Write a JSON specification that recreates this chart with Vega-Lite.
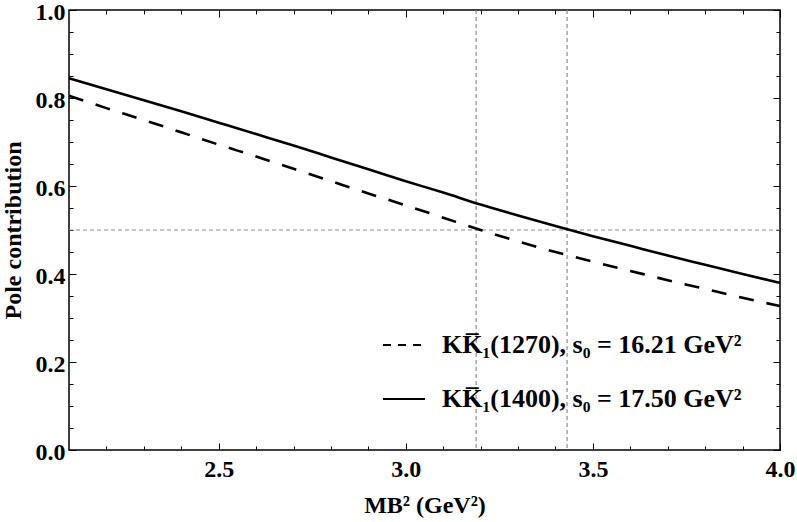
{
  "$schema": "https://vega.github.io/schema/vega-lite/v6.json",
  "width": 711,
  "height": 440,
  "autosize": {"type": "none"},
  "padding": {"left": 69, "top": 10, "right": 17, "bottom": 72},
  "config": {
    "view": {"stroke": "black", "strokeWidth": 1.5},
    "font": "Times New Roman, Liberation Serif, serif",
    "axis": {
      "grid": false,
      "domain": false,
      "tickColor": "black",
      "tickWidth": 1,
      "labelFont": "Times New Roman, Liberation Serif, serif",
      "labelFontWeight": "bold",
      "labelFontSize": 24,
      "labelColor": "black",
      "labelFlush": false,
      "labelOverlap": false,
      "titleFont": "Times New Roman, Liberation Serif, serif",
      "titleFontWeight": "bold",
      "titleFontSize": 24,
      "titleColor": "black"
    }
  },
  "datasets": {
    "curves": [
      {"m2": 2.1, "pole": 0.805, "series": "KK̅₁(1270), s₀ = 16.21 GeV²"},
      {"m2": 2.2, "pole": 0.777, "series": "KK̅₁(1270), s₀ = 16.21 GeV²"},
      {"m2": 2.3, "pole": 0.750, "series": "KK̅₁(1270), s₀ = 16.21 GeV²"},
      {"m2": 2.4, "pole": 0.722, "series": "KK̅₁(1270), s₀ = 16.21 GeV²"},
      {"m2": 2.5, "pole": 0.694, "series": "KK̅₁(1270), s₀ = 16.21 GeV²"},
      {"m2": 2.6, "pole": 0.667, "series": "KK̅₁(1270), s₀ = 16.21 GeV²"},
      {"m2": 2.7, "pole": 0.639, "series": "KK̅₁(1270), s₀ = 16.21 GeV²"},
      {"m2": 2.8, "pole": 0.611, "series": "KK̅₁(1270), s₀ = 16.21 GeV²"},
      {"m2": 2.9, "pole": 0.583, "series": "KK̅₁(1270), s₀ = 16.21 GeV²"},
      {"m2": 3.0, "pole": 0.556, "series": "KK̅₁(1270), s₀ = 16.21 GeV²"},
      {"m2": 3.1, "pole": 0.528, "series": "KK̅₁(1270), s₀ = 16.21 GeV²"},
      {"m2": 3.2, "pole": 0.500, "series": "KK̅₁(1270), s₀ = 16.21 GeV²"},
      {"m2": 3.3, "pole": 0.474, "series": "KK̅₁(1270), s₀ = 16.21 GeV²"},
      {"m2": 3.4, "pole": 0.450, "series": "KK̅₁(1270), s₀ = 16.21 GeV²"},
      {"m2": 3.5, "pole": 0.428, "series": "KK̅₁(1270), s₀ = 16.21 GeV²"},
      {"m2": 3.6, "pole": 0.407, "series": "KK̅₁(1270), s₀ = 16.21 GeV²"},
      {"m2": 3.7, "pole": 0.386, "series": "KK̅₁(1270), s₀ = 16.21 GeV²"},
      {"m2": 3.8, "pole": 0.366, "series": "KK̅₁(1270), s₀ = 16.21 GeV²"},
      {"m2": 3.9, "pole": 0.346, "series": "KK̅₁(1270), s₀ = 16.21 GeV²"},
      {"m2": 4.0, "pole": 0.327, "series": "KK̅₁(1270), s₀ = 16.21 GeV²"},
      {"m2": 2.1, "pole": 0.845, "series": "KK̅₁(1400), s₀ = 17.50 GeV²"},
      {"m2": 2.2, "pole": 0.820, "series": "KK̅₁(1400), s₀ = 17.50 GeV²"},
      {"m2": 2.3, "pole": 0.795, "series": "KK̅₁(1400), s₀ = 17.50 GeV²"},
      {"m2": 2.4, "pole": 0.770, "series": "KK̅₁(1400), s₀ = 17.50 GeV²"},
      {"m2": 2.5, "pole": 0.744, "series": "KK̅₁(1400), s₀ = 17.50 GeV²"},
      {"m2": 2.6, "pole": 0.718, "series": "KK̅₁(1400), s₀ = 17.50 GeV²"},
      {"m2": 2.7, "pole": 0.692, "series": "KK̅₁(1400), s₀ = 17.50 GeV²"},
      {"m2": 2.8, "pole": 0.665, "series": "KK̅₁(1400), s₀ = 17.50 GeV²"},
      {"m2": 2.9, "pole": 0.638, "series": "KK̅₁(1400), s₀ = 17.50 GeV²"},
      {"m2": 3.0, "pole": 0.611, "series": "KK̅₁(1400), s₀ = 17.50 GeV²"},
      {"m2": 3.1, "pole": 0.585, "series": "KK̅₁(1400), s₀ = 17.50 GeV²"},
      {"m2": 3.2, "pole": 0.558, "series": "KK̅₁(1400), s₀ = 17.50 GeV²"},
      {"m2": 3.3, "pole": 0.533, "series": "KK̅₁(1400), s₀ = 17.50 GeV²"},
      {"m2": 3.4, "pole": 0.509, "series": "KK̅₁(1400), s₀ = 17.50 GeV²"},
      {"m2": 3.5, "pole": 0.486, "series": "KK̅₁(1400), s₀ = 17.50 GeV²"},
      {"m2": 3.6, "pole": 0.464, "series": "KK̅₁(1400), s₀ = 17.50 GeV²"},
      {"m2": 3.7, "pole": 0.442, "series": "KK̅₁(1400), s₀ = 17.50 GeV²"},
      {"m2": 3.8, "pole": 0.421, "series": "KK̅₁(1400), s₀ = 17.50 GeV²"},
      {"m2": 3.9, "pole": 0.400, "series": "KK̅₁(1400), s₀ = 17.50 GeV²"},
      {"m2": 4.0, "pole": 0.380, "series": "KK̅₁(1400), s₀ = 17.50 GeV²"}
    ],
    "vlines": [{"m2": 3.188}, {"m2": 3.431}],
    "hlines": [{"pole": 0.5}]
  },
  "layer": [
    {
      "data": {"name": "vlines"},
      "mark": {"type": "rule", "stroke": "#8c8c8c", "strokeWidth": 1.2, "strokeDash": [4, 3]},
      "encoding": {
        "x": {"field": "m2", "type": "quantitative", "scale": {"domain": [2.1, 4.0], "nice": false, "zero": false}, "axis": null}
      }
    },
    {
      "data": {"name": "hlines"},
      "mark": {"type": "rule", "stroke": "#8c8c8c", "strokeWidth": 1.2, "strokeDash": [4, 3]},
      "encoding": {
        "y": {"field": "pole", "type": "quantitative", "scale": {"domain": [0, 1], "nice": false}, "axis": null}
      }
    },
    {
      "data": {"name": "curves"},
      "transform": [{"filter": "indexof(datum.series, '1270') >= 0"}],
      "mark": {"type": "line", "stroke": "black", "strokeWidth": 2.6, "interpolate": "monotone", "strokeDash": [15, 13]},
      "encoding": {
        "x": {
          "field": "m2", "type": "quantitative",
          "scale": {"domain": [2.1, 4.0], "nice": false, "zero": false},
          "axis": {"orient": "bottom", "values": [2.5, 3.0, 3.5, 4.0], "format": ".1f", "tickSize": -7, "labelPadding": 14, "title": "MB² (GeV²)", "titlePadding": 12}
        },
        "y": {
          "field": "pole", "type": "quantitative",
          "scale": {"domain": [0, 1], "nice": false},
          "axis": {"orient": "left", "values": [0, 0.2, 0.4, 0.6, 0.8, 1.0], "format": ".1f", "tickSize": -7, "labelPadding": 11, "labelBaseline": "middle", "labelOffset": 2, "title": "Pole contribution", "titlePadding": 10}
        }
      }
    },
    {
      "data": {"name": "curves"},
      "transform": [{"filter": "indexof(datum.series, '1400') >= 0"}],
      "mark": {"type": "line", "stroke": "black", "strokeWidth": 2.6, "interpolate": "monotone"},
      "encoding": {
        "x": {"field": "m2", "type": "quantitative", "axis": {"orient": "bottom", "values": [2.2, 2.3, 2.4, 2.6, 2.7, 2.8, 2.9, 3.1, 3.2, 3.3, 3.4, 3.6, 3.7, 3.8, 3.9], "tickSize": -4, "labels": false, "title": null}},
        "y": {"field": "pole", "type": "quantitative", "axis": {"orient": "left", "values": [0.05, 0.1, 0.15, 0.25, 0.3, 0.35, 0.45, 0.5, 0.55, 0.65, 0.7, 0.75, 0.85, 0.9, 0.95], "tickSize": -4, "labels": false, "title": null}}
      }
    },
    {
      "data": {"name": "curves"},
      "transform": [{"filter": "datum.m2 > 100"}],
      "mark": {"type": "line", "stroke": "black", "strokeWidth": 2},
      "encoding": {
        "x": {"field": "m2", "type": "quantitative", "axis": {"orient": "top", "values": [2.5, 3.0, 3.5, 4.0], "tickSize": -7, "labels": false, "title": null}},
        "y": {"field": "pole", "type": "quantitative", "axis": {"orient": "right", "values": [0, 0.2, 0.4, 0.6, 0.8, 1.0], "tickSize": -7, "labels": false, "title": null}},
        "strokeDash": {
          "field": "series", "type": "nominal",
          "scale": {"domain": ["KK̅₁(1270), s₀ = 16.21 GeV²", "KK̅₁(1400), s₀ = 17.50 GeV²"], "range": [[8, 7], [1, 0]]},
          "legend": {
            "orient": "none", "legendX": 313, "legendY": 313, "title": null,
            "symbolType": "stroke", "symbolSize": 1764, "symbolStrokeWidth": 2, "symbolStrokeColor": "black",
            "labelFont": "Times New Roman, Liberation Serif, serif", "labelFontWeight": "bold", "labelFontSize": 26, "labelColor": "black",
            "labelOffset": 16, "rowPadding": 19, "padding": 0, "labelLimit": 600
          }
        }
      }
    },
    {
      "data": {"name": "curves"},
      "mark": {"type": "point", "opacity": 0},
      "encoding": {
        "x": {"field": "m2", "type": "quantitative", "axis": {"orient": "top", "values": [2.2, 2.3, 2.4, 2.6, 2.7, 2.8, 2.9, 3.1, 3.2, 3.3, 3.4, 3.6, 3.7, 3.8, 3.9], "tickSize": -4, "labels": false, "title": null}},
        "y": {"field": "pole", "type": "quantitative", "axis": {"orient": "right", "values": [0.05, 0.1, 0.15, 0.25, 0.3, 0.35, 0.45, 0.5, 0.55, 0.65, 0.7, 0.75, 0.85, 0.9, 0.95], "tickSize": -4, "labels": false, "title": null}}
      }
    }
  ],
  "resolve": {"axis": {"x": "independent", "y": "independent"}}
}
